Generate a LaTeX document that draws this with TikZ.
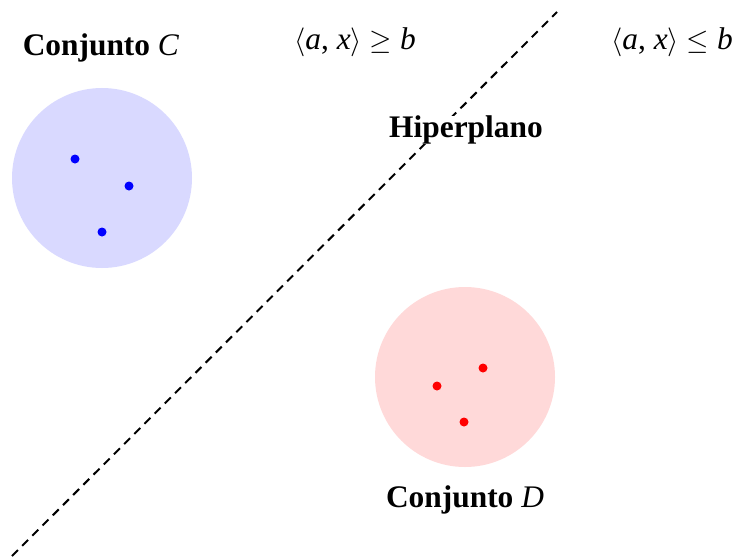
\documentclass[tikz,border=0pt]{standalone}
\usepackage{fontspec}
\setmainfont{Liberation Serif}
\begin{document}
\begin{tikzpicture}[x=0.5pt,y=-0.5pt,
  lbl/.style={font=\fontsize{15.7}{18}\selectfont},
  setC/.style={circle,fill=blue!15,minimum size=90pt,inner sep=0pt},
  setD/.style={circle,fill=red!15,minimum size=90pt,inner sep=0pt},
  bdot/.style={circle,fill=blue,minimum size=4.5pt,inner sep=0pt},
  rdot/.style={circle,fill=red,minimum size=4.5pt,inner sep=0pt},
  hyp/.style={line width=1pt,dash pattern=on 4.2pt off 3pt}]
\useasboundingbox (0,0) rectangle (737,556);
\node[setC] (C) at (102,178) {};
\node[setD] (D) at (465,377) {};
\node[bdot] (c1) at (75,159) {};
\node[bdot] (c2) at (129,186) {};
\node[bdot] (c3) at (102,232) {};
\node[rdot] (d1) at (483,368) {};
\node[rdot] (d2) at (437,386) {};
\node[rdot] (d3) at (464,422) {};
\coordinate (h1) at (12,556);
\coordinate (h2) at (557,12);
\draw[hyp] (h1) -- (h2);
\node[lbl] (lC) at (101,48) {\textbf{Conjunto} \textit{C}};
\node[lbl] (lD) at (465,500) {\textbf{Conjunto} \textit{D}};
\node[lbl] (ge) at (355,42) {$\langle$\textit{a}, \textit{x}$\rangle$ $\geq$ \textit{b}};
\node[lbl] (le) at (672,42) {$\langle$\textit{a}, \textit{x}$\rangle$ $\leq$ \textit{b}};
\node[lbl,fill=white,inner sep=0pt] (hp) at (466,130) {\textbf{Hiperplano}};
\end{tikzpicture}
\end{document}
